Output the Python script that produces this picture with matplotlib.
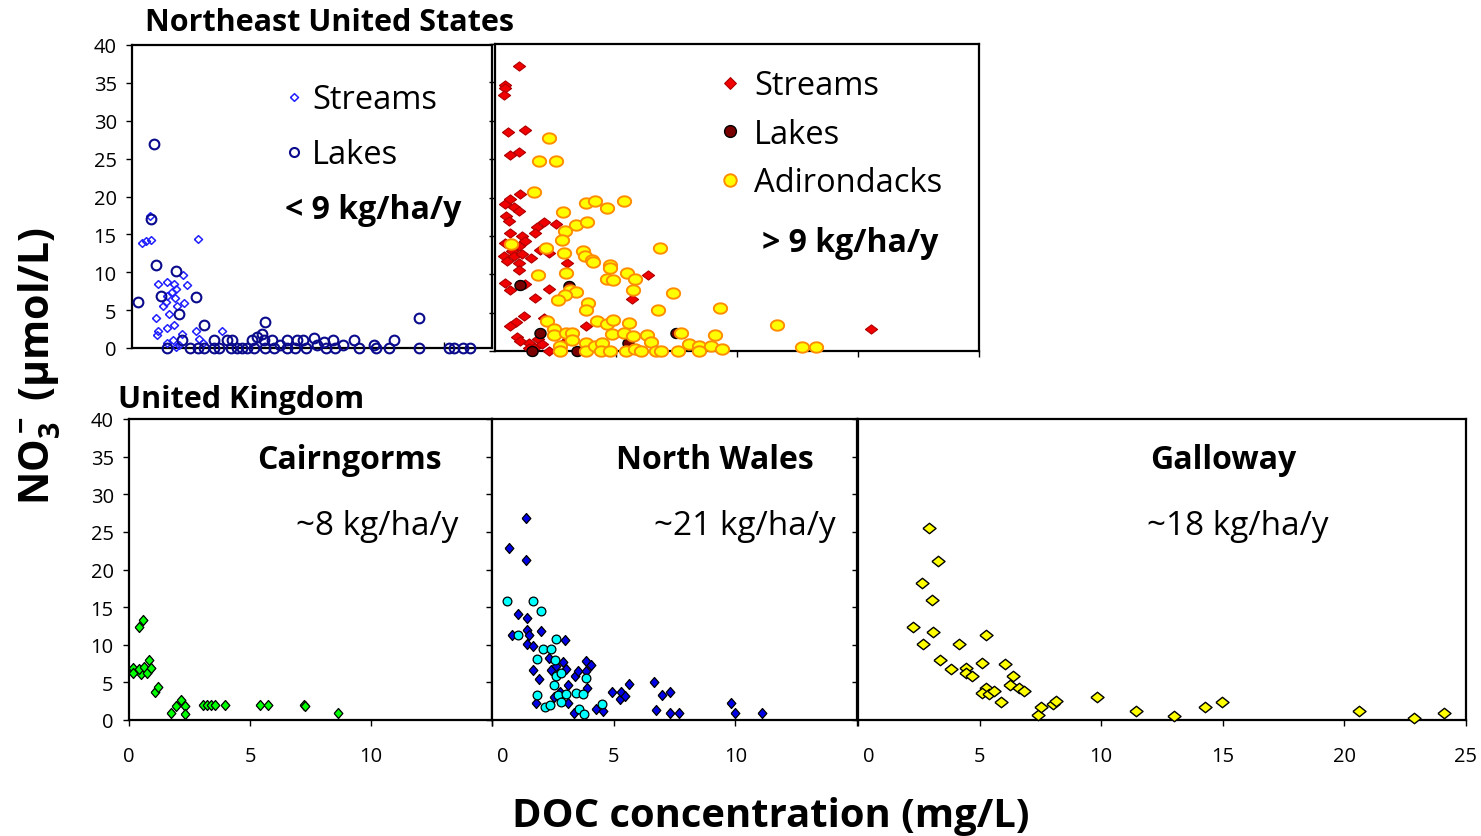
import numpy as np
import matplotlib
matplotlib.use("Agg")
import matplotlib.pyplot as plt
from matplotlib.lines import Line2D

plt.rcParams['font.family'] = ['Open Sans', 'DejaVu Sans']
plt.rcParams['mathtext.fontset'] = 'custom'
plt.rcParams['mathtext.rm'] = 'Open Sans'
plt.rcParams['mathtext.bf'] = 'Open Sans:bold'
plt.rcParams['mathtext.it'] = 'Open Sans:italic'

# ---------------- data: DOC (mg/L) vs NO3- (umol/L) ----------------
# Northeast US, N deposition < 9 kg/ha/y
ne_low_streams_doc = [0.41, 0.58, 0.78, 0.73, 2.74, 1.10, 1.47, 1.74, 1.65, 1.47, 1.30, 1.41,
                      1.55, 1.85, 1.81, 1.88, 2.13, 2.29, 2.15, 1.00, 1.47, 1.76, 1.10, 1.06,
                      2.10, 2.65, 3.74, 2.78, 1.71, 1.47, 1.85, 1.96, 2.95]
ne_low_streams_no3 = [13.8, 14.1, 14.3, 17.4, 14.4, 8.4, 8.7, 8.4, 7.4, 6.9, 5.6, 6.1,
                      4.5, 7.8, 6.6, 5.6, 9.6, 8.3, 6.0, 4.0, 2.6, 3.0, 2.2, 1.7,
                      1.9, 2.2, 2.2, 1.2, 1.1, 0.6, 0.1, 0.4, 0.6]
ne_low_lakes_doc = [0.92, 0.80, 1.00, 0.27, 1.19, 1.85, 2.65, 1.95, 3.00, 5.56, 11.96, 1.47,
                    2.10, 2.40, 2.74, 3.00, 3.43, 3.43, 3.63, 3.94, 4.11, 4.18, 4.39, 4.60,
                    4.80, 5.00, 5.08, 5.21, 5.42, 5.49, 5.56, 5.83, 5.90, 6.17, 6.45, 6.45,
                    6.79, 6.86, 7.13, 7.27, 7.59, 7.72, 8.02, 8.09, 8.39, 8.44, 8.78, 9.26,
                    9.47, 10.08, 10.15, 10.70, 10.90, 11.96, 13.20, 13.40, 13.80, 14.10]
ne_low_lakes_no3 = [26.9, 17.0, 10.9, 6.1, 6.9, 10.1, 6.7, 4.5, 3.0, 3.4, 3.9, 0.0,
                    1.0, 0.0, 0.0, 0.0, 1.0, 0.0, 0.0, 1.0, 0.0, 1.0, 0.0, 0.0,
                    0.0, 1.0, 0.0, 1.45, 1.9, 1.0, 0.0, 1.0, 0.0, 0.45, 1.0, 0.0,
                    0.0, 1.0, 1.0, 0.0, 1.3, 0.45, 0.8, 0.0, 1.0, 0.0, 0.35, 1.0,
                    0.0, 0.35, 0.0, 0.0, 1.0, 0.0, 0.0, 0.0, 0.0, 0.0]

# Northeast US, N deposition > 9 kg/ha/y
ne_high_streams_doc = [0.98, 0.40, 0.43, 0.36, 0.54, 1.23, 0.64, 0.98, 0.40, 0.64, 1.05, 0.46,
                       0.77, 0.98, 0.57, 2.02, 1.74, 2.50, 1.67, 0.64, 1.12, 1.26, 0.43, 0.98,
                       0.71, 1.88, 2.23, 0.36, 0.77, 1.12, 1.47, 0.50, 0.98, 2.99, 0.98, 6.31,
                       0.43, 0.64, 1.26, 2.23, 1.67, 5.68, 1.19, 0.86, 0.60, 2.02, 3.75, 0.91,
                       1.40, 1.78, 2.23, 15.55, 2.92, 1.60, 1.05, 1.95, 1.40]
ne_high_streams_no3 = [37.1, 34.7, 34.3, 33.4, 28.5, 28.8, 25.6, 25.9, 19.2, 19.8, 20.4, 17.6,
                       18.7, 18.3, 17.0, 16.8, 16.2, 16.5, 15.4, 15.4, 15.0, 14.3, 14.1, 13.7,
                       13.0, 13.2, 12.8, 12.4, 12.4, 12.6, 12.1, 11.7, 11.5, 11.5, 10.5, 9.9,
                       8.9, 8.0, 8.7, 8.1, 6.9, 6.8, 4.6, 3.8, 3.2, 4.3, 3.2, 1.8,
                       1.1, 1.5, 0.0, 2.9, 1.3, 0.4, 1.3, 0.9, 0.4]
ne_high_lakes_doc = [1.05, 1.84, 1.53, 3.40, 7.48, 5.48, 3.06]
ne_high_lakes_no3 = [8.6, 2.4, 0.0, 0.0, 2.4, 1.0, 8.5]
adirondack_doc = [2.23, 1.81, 2.50, 1.60, 3.78, 4.14, 4.61, 5.34, 2.82, 3.36, 3.79, 2.89,
                  2.75, 0.68, 2.12, 6.83, 2.86, 3.65, 3.72, 4.00, 4.07, 4.74, 4.74, 1.78,
                  2.95, 5.44, 5.80, 4.61, 4.88, 3.08, 3.36, 2.89, 2.62, 5.71, 7.34, 3.86,
                  3.78, 6.72, 9.28, 2.16, 4.23, 4.61, 4.88, 5.52, 11.66, 2.43, 2.43, 2.95,
                  3.20, 4.85, 5.34, 5.71, 6.27, 7.69, 9.10, 6.45, 2.67, 2.67, 3.78, 3.78,
                  4.14, 4.44, 4.37, 4.74, 5.41, 5.80, 6.03, 6.65, 6.86, 7.55, 8.00, 8.45,
                  8.42, 8.93, 9.38, 12.67, 13.26, 3.17]
adirondack_no3 = [27.7, 24.7, 24.8, 20.7, 19.3, 19.5, 18.6, 19.5, 18.1, 16.4, 16.8, 15.7,
                  14.4, 14.0, 13.4, 13.4, 12.8, 13.0, 12.4, 11.9, 11.6, 11.2, 10.8, 9.9,
                  10.1, 10.2, 9.4, 9.4, 9.3, 8.0, 7.7, 7.3, 6.7, 8.0, 7.6, 6.2,
                  5.3, 5.3, 5.6, 3.9, 3.9, 3.5, 4.0, 3.7, 3.4, 2.9, 2.1, 2.3,
                  2.3, 2.2, 2.4, 2.0, 2.1, 2.4, 2.1, 1.2, 0.7, 0.0, 1.0, 0.0,
                  0.7, 1.0, 0.0, 0.0, 0.0, 0.2, 0.0, 0.0, 0.0, 0.0, 0.9, 0.6,
                  0.0, 0.6, 0.2, 0.5, 0.5, 1.4]

# United Kingdom
cairngorms_doc = [0.18, 0.18, 0.43, 0.56, 0.48, 0.43, 0.62, 0.73, 0.84, 0.92, 1.07, 1.18,
                  1.73, 1.94, 2.13, 2.31, 2.31, 3.06, 3.23, 3.37, 3.54, 3.96, 5.43, 5.74,
                  7.25, 7.29, 8.64]
cairngorms_no3 = [6.96, 6.3, 12.4, 13.3, 6.1, 6.8, 7.05, 6.3, 8.0, 6.9, 3.7, 4.4,
                  0.9, 1.9, 2.6, 1.9, 0.85, 1.95, 1.95, 1.95, 1.95, 2.04, 1.95, 2.04,
                  1.95, 1.8, 0.9]

wales_streams_doc = [1.41, 0.68, 1.41, 1.07, 1.44, 1.44, 0.84, 1.52, 1.44, 1.68, 2.03, 2.99,
                     2.34, 1.68, 1.93, 2.44, 2.64, 2.90, 3.05, 3.12, 2.55, 2.78, 3.12, 1.79,
                     3.40, 3.53, 3.88, 4.08, 3.88, 3.90, 3.36, 4.26, 4.56, 4.95, 5.25, 5.30,
                     5.45, 5.63, 6.66, 6.75, 6.99, 7.30, 7.30, 7.68, 9.84, 10.00, 11.08]
wales_streams_no3 = [26.8, 22.9, 21.2, 14.1, 13.5, 12.0, 11.3, 11.3, 10.1, 9.8, 11.8, 10.6,
                     8.3, 6.7, 5.5, 6.7, 7.2, 7.7, 6.8, 4.6, 3.1, 3.7, 2.2, 2.2,
                     5.9, 6.5, 7.85, 7.3, 6.5, 4.3, 0.9, 1.5, 1.2, 3.7, 2.75, 3.7,
                     3.2, 4.75, 5.1, 1.33, 3.3, 3.7, 0.9, 0.9, 2.2, 0.9, 0.9]
wales_lakes_doc = [0.62, 1.68, 2.03, 1.07, 2.64, 2.10, 2.41, 1.86, 2.58, 2.62, 2.85, 2.55,
                   2.71, 3.03, 2.82, 3.44, 3.74, 3.88, 1.86, 2.18, 2.40, 3.56, 3.78, 4.52]
wales_lakes_no3 = [15.8, 15.8, 14.5, 11.3, 10.7, 9.5, 9.4, 8.1, 8.0, 5.9, 6.2, 4.7,
                   3.3, 3.4, 2.4, 3.6, 3.4, 5.6, 3.3, 1.7, 2.0, 1.5, 0.85, 2.1]

galloway_doc = [2.90, 3.29, 2.64, 3.05, 2.28, 3.09, 2.69, 4.15, 5.26, 3.37, 3.84, 4.45,
                4.43, 4.69, 5.08, 6.03, 6.38, 6.27, 6.60, 6.81, 5.26, 5.08, 5.37, 5.59,
                5.86, 7.41, 7.54, 8.01, 8.16, 9.84, 11.43, 13.00, 14.25, 14.95, 20.60,
                22.88, 24.10]
galloway_no3 = [25.5, 21.1, 18.2, 15.9, 12.3, 11.7, 10.1, 10.1, 11.3, 8.0, 6.8, 6.9,
                6.3, 5.8, 7.6, 7.4, 5.8, 4.7, 4.3, 3.8, 4.3, 3.6, 3.5, 3.9,
                2.4, 0.7, 1.7, 2.1, 2.5, 3.1, 1.2, 0.5, 1.7, 2.4, 1.2,
                0.2, 0.9]

y_ticks = [0, 5, 10, 15, 20, 25, 30, 35, 40]

TICK_FS = 14.5
LEGEND_FS = 23.5
BOLD_FS = 23
PLAIN_FS = 24

# ---------------- marker shapes ----------------
def diamond(w, h):
    return [(-w, 0), (0, h), (w, 0), (0, -h), (-w, 0)]

def ellipse(w, h, n=48):
    t = np.linspace(0, 2 * np.pi, n)
    return list(zip(w * np.cos(t), h * np.sin(t)))

W, H = 1481, 837
fig = plt.figure(figsize=(W / 100, H / 100), dpi=100)


def px_axes(x0, y0, x1, y1):
    return fig.add_axes([x0 / W, 1 - y1 / H, (x1 - x0) / W, (y1 - y0) / H])


def style_axes(ax, xmax, xticks, xlabels, ylabels):
    ax.set_xlim(0, xmax)
    ax.set_ylim(0, 40)
    ax.set_yticks(y_ticks)
    if ylabels:
        ax.set_yticklabels([str(v) for v in y_ticks])
    else:
        ax.set_yticklabels([])
    ax.set_xticks(xticks)
    ax.set_xticklabels(xlabels)
    for s in ax.spines.values():
        s.set_linewidth(1.6)
        s.set_color('black')
    ax.tick_params(axis='y', direction='out', length=4, width=1.0, pad=7, labelsize=TICK_FS)
    ax.tick_params(axis='x', direction='out', length=4, width=1.0, pad=15, labelsize=TICK_FS)
    ax.set_facecolor('white')


def pts(ax, x, y, marker, size, face, edge, ew, z=3):
    ax.plot(x, y, linestyle='none', marker=marker, markersize=size,
            markerfacecolor=face, markeredgecolor=edge, markeredgewidth=ew,
            clip_on=False, zorder=z)

# ---------------- Northeast United States ----------------
ax1 = px_axes(132, 46, 492, 349)
style_axes(ax1, 15, [13], [''], True)
ax1.tick_params(axis='x', direction='in')
tl_diamond = diamond(1.0, 0.95)
pts(ax1, ne_low_streams_doc, ne_low_streams_no3, tl_diamond, 5.8, 'none', '#1F1FFF', 1.1)
pts(ax1, ne_low_lakes_doc, ne_low_lakes_no3, 'o', 7.0, 'none', '#0A0A8C', 1.5, z=4)
h1 = [Line2D([], [], linestyle='none', marker=tl_diamond, markersize=5.8,
             markerfacecolor='none', markeredgecolor='#1F1FFF', markeredgewidth=1.1),
      Line2D([], [], linestyle='none', marker='o', markersize=6.5,
             markerfacecolor='none', markeredgecolor='#0A0A8C', markeredgewidth=1.5)]
ax1.legend(h1, ['Streams', 'Lakes'], loc='upper left', bbox_to_anchor=(0.4274, 0.874),
           frameon=False, fontsize=LEGEND_FS, handlelength=0.5, handletextpad=0.30,
           labelspacing=0.68, borderpad=0, borderaxespad=0)
ax1.text(0.425, 0.456, '< 9 kg/ha/y', transform=ax1.transAxes, fontsize=BOLD_FS,
         fontweight='bold', ha='left', va='center')

ax2 = px_axes(495, 45, 979, 352)
style_axes(ax2, 20, [5, 10, 15, 20], ['', '', '', ''], False)
tr_diamond = diamond(1.0, 0.75)
oval_lake = ellipse(1.0, 0.9)
oval_adk = ellipse(1.0, 0.78)
pts(ax2, ne_high_streams_doc, ne_high_streams_no3, tr_diamond, 8.8, '#F00000', '#B00000', 0.8)
pts(ax2, ne_high_lakes_doc, ne_high_lakes_no3, oval_lake, 8.0, '#7A0000', 'black', 1.0, z=4)
pts(ax2, adirondack_doc, adirondack_no3, oval_adk, 9.6, '#FFFF00', '#FF8C00', 1.4, z=5)
h2 = [Line2D([], [], linestyle='none', marker=diamond(1.0, 1.0), markersize=8.5,
             markerfacecolor='#F00000', markeredgecolor='#B00000', markeredgewidth=0.8),
      Line2D([], [], linestyle='none', marker='o', markersize=8.5,
             markerfacecolor='#7A0000', markeredgecolor='black', markeredgewidth=1.0),
      Line2D([], [], linestyle='none', marker='o', markersize=9,
             markerfacecolor='#FFFF00', markeredgecolor='#FF8C00', markeredgewidth=1.4)]
ax2.legend(h2, ['Streams', 'Lakes', 'Adirondacks'], loc='upper left',
           bbox_to_anchor=(0.4687, 0.917), frameon=False, fontsize=LEGEND_FS,
           handlelength=0.5, handletextpad=0.49, labelspacing=0.47, borderpad=0,
           borderaxespad=0)
ax2.text(0.552, 0.355, '> 9 kg/ha/y', transform=ax2.transAxes, fontsize=BOLD_FS,
         fontweight='bold', ha='left', va='center')

# ---------------- United Kingdom ----------------
ax3 = px_axes(129, 420, 492, 721)
style_axes(ax3, 15, [0, 5, 10, 15], ['0', '5', '10', ''], True)
pts(ax3, cairngorms_doc, cairngorms_no3, diamond(0.87, 1.0), 7.2, '#00FF00', 'black', 0.9)
ax3.text(0.606, 0.864, 'Cairngorms', transform=ax3.transAxes, fontsize=BOLD_FS,
         fontweight='bold', ha='center', va='center')
ax3.text(0.683, 0.645, '~8 kg/ha/y', transform=ax3.transAxes, fontsize=PLAIN_FS,
         ha='center', va='center')

ax4 = px_axes(492, 420, 857, 721)
style_axes(ax4, 15, [0, 5, 10, 15], ['', '5', '10', ''], False)
pts(ax4, wales_streams_doc, wales_streams_no3, diamond(0.87, 1.0), 7.2, '#0000E6', 'black', 0.9)
pts(ax4, wales_lakes_doc, wales_lakes_no3, 'o', 6.3, '#00FFFF', 'black', 0.9, z=4)
ax4.text(0.611, 0.864, 'North Wales', transform=ax4.transAxes, fontsize=BOLD_FS,
         fontweight='bold', ha='center', va='center')
ax4.text(0.693, 0.645, '~21 kg/ha/y', transform=ax4.transAxes, fontsize=PLAIN_FS,
         ha='center', va='center')

ax5 = px_axes(858, 420, 1466, 721)
style_axes(ax5, 25, [0, 5, 10, 15, 20, 25], ['', '5', '10', '15', '20', '25'], False)
pts(ax5, galloway_doc, galloway_no3, diamond(1.0, 0.8), 9.4, '#FFFF00', 'black', 1.0)
ax5.text(0.600, 0.864, 'Galloway', transform=ax5.transAxes, fontsize=BOLD_FS,
         fontweight='bold', ha='center', va='center')
ax5.text(0.625, 0.645, '~18 kg/ha/y', transform=ax5.transAxes, fontsize=PLAIN_FS,
         ha='center', va='center')

# the "0" labels sit just right of the shared panel borders
for ax in (ax4, ax5):
    ax.annotate('0', xy=(0, 0), xycoords=('data', 'axes fraction'), xytext=(8, -26),
                textcoords='offset points', fontsize=TICK_FS, ha='center', va='center',
                annotation_clip=False)

# ---------------- titles and axis labels ----------------
fig.text(145 / W, 1 - 23 / H, 'Northeast United States', fontsize=22, fontweight='bold',
         ha='left', va='center')
fig.text(118 / W, 1 - 400 / H, 'United Kingdom', fontsize=22, fontweight='bold',
         ha='left', va='center')
fig.text(40 / W, 1 - 366 / H, r'$\mathbf{NO_3^-}$ (µmol/L)', rotation=90, fontsize=29.5,
         fontweight='bold', ha='center', va='center')
fig.text(771 / W, 1 - 817 / H, 'DOC concentration (mg/L)', fontsize=28.8, fontweight='bold',
         ha='center', va='center')

fig.savefig('out.png', dpi=100, facecolor='white')
